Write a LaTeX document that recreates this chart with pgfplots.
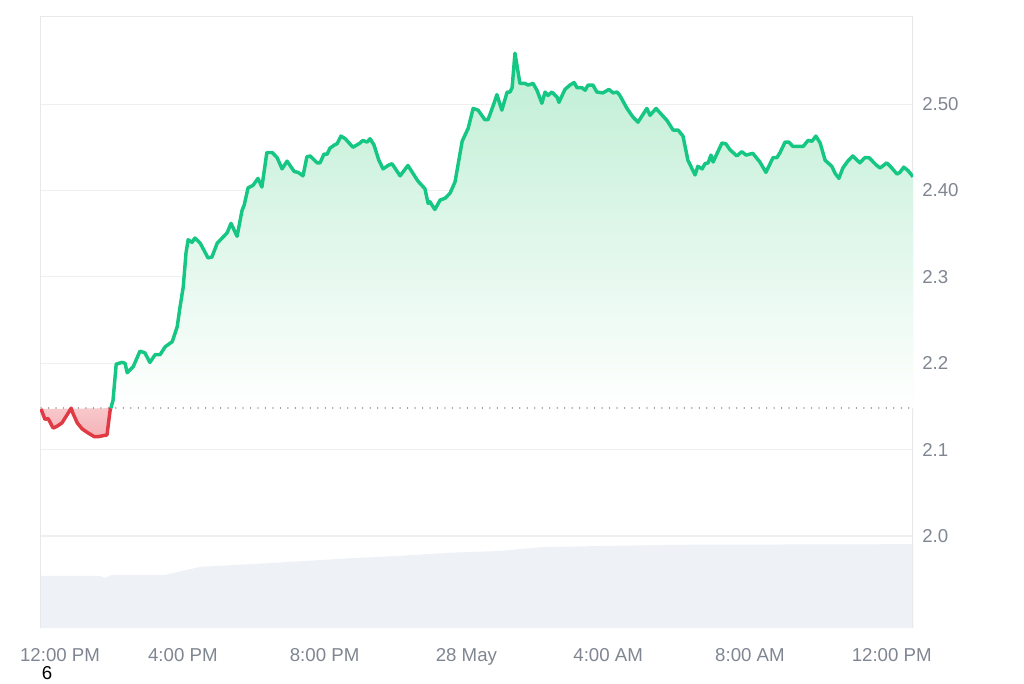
\documentclass[border=0pt]{standalone}
\usepackage{pgfplots}
\pgfplotsset{compat=1.18}
\usepackage{pgfplotstable}
\usepackage{fontspec}
\setmainfont{Liberation Sans}
\definecolor{upgreen}{RGB}{22,199,132}
\definecolor{downred}{RGB}{224,58,68}
\definecolor{greenfill}{RGB}{190,238,212}
\definecolor{redtop}{RGB}{248,200,203}
\definecolor{redbot}{RGB}{244,178,183}
\definecolor{volfill}{RGB}{238,242,246}
\definecolor{gridgray}{RGB}{239,239,239}
\definecolor{framegray}{RGB}{232,232,232}
\definecolor{labelgray}{RGB}{128,134,145}
\definecolor{dotgray}{RGB}{150,150,150}

\pgfplotstableread{
h p
0 2.147
0.11 2.135
0.20 2.136
0.34 2.125
0.45 2.127
0.59 2.131
0.73 2.140
0.85 2.148
0.90 2.142
1.02 2.131
1.16 2.124
1.30 2.120
1.50 2.115
1.61 2.115
1.86 2.117
1.95 2.146
1.97 2.148
}\redtab

\pgfplotstableread{
h p
1.97 2.148
2.03 2.157
2.12 2.199
2.28 2.201
2.37 2.200
2.43 2.189
2.60 2.196
2.79 2.214
2.93 2.212
3.07 2.201
3.22 2.210
3.36 2.210
3.50 2.219
3.70 2.225
3.84 2.242
3.92 2.265
4.01 2.288
4.09 2.328
4.15 2.343
4.26 2.340
4.34 2.345
4.49 2.339
4.71 2.322
4.82 2.323
4.97 2.339
5.11 2.345
5.25 2.351
5.36 2.362
5.53 2.347
5.67 2.377
5.73 2.383
5.84 2.403
5.98 2.406
6.12 2.414
6.23 2.404
6.37 2.444
6.52 2.444
6.66 2.438
6.80 2.425
6.94 2.434
7.14 2.422
7.25 2.421
7.39 2.417
7.50 2.439
7.59 2.440
7.79 2.432
7.87 2.432
7.98 2.442
8.07 2.442
8.15 2.449
8.29 2.453
8.35 2.454
8.46 2.463
8.58 2.460
8.80 2.450
9.00 2.455
9.08 2.458
9.20 2.456
9.28 2.460
9.39 2.453
9.53 2.435
9.65 2.425
9.79 2.429
9.90 2.431
10.13 2.417
10.35 2.429
10.49 2.420
10.63 2.411
10.83 2.402
10.92 2.385
10.97 2.387
11.11 2.378
11.26 2.389
11.40 2.391
11.54 2.397
11.68 2.410
11.88 2.457
12.05 2.472
12.19 2.495
12.33 2.493
12.52 2.482
12.61 2.482
12.78 2.501
12.86 2.511
13.00 2.493
13.15 2.514
13.23 2.514
13.29 2.519
13.37 2.559
13.51 2.524
13.65 2.524
13.74 2.522
13.88 2.524
13.99 2.516
14.13 2.501
14.22 2.514
14.30 2.510
14.41 2.514
14.56 2.508
14.61 2.502
14.78 2.517
14.92 2.522
15.04 2.525
15.12 2.519
15.26 2.519
15.35 2.516
15.43 2.522
15.57 2.522
15.68 2.514
15.85 2.513
16.02 2.517
16.14 2.513
16.25 2.514
16.33 2.510
16.53 2.495
16.70 2.485
16.84 2.479
17.09 2.495
17.18 2.487
17.35 2.495
17.46 2.490
17.66 2.481
17.83 2.470
17.97 2.470
18.11 2.463
18.25 2.435
18.45 2.418
18.53 2.428
18.65 2.425
18.73 2.431
18.82 2.432
18.90 2.441
18.96 2.433
19.21 2.455
19.32 2.454
19.44 2.447
19.63 2.440
19.77 2.445
19.89 2.441
20.08 2.443
20.28 2.433
20.45 2.421
20.65 2.438
20.76 2.438
20.85 2.444
20.99 2.456
21.10 2.456
21.21 2.451
21.50 2.451
21.64 2.458
21.75 2.457
21.86 2.463
21.98 2.455
22.12 2.435
22.31 2.428
22.40 2.420
22.51 2.414
22.62 2.426
22.76 2.434
22.90 2.440
23.10 2.432
23.24 2.438
23.36 2.438
23.55 2.430
23.67 2.426
23.86 2.432
23.98 2.427
24.15 2.419
24.23 2.421
24.34 2.427
24.46 2.423
24.60 2.416
}\greentab

\pgfplotstableread{
h v
-0.03 8.5
1.66 8.5
1.81 8.2
2.00 8.7
3.50 8.7
4.20 9.6
4.49 10.0
5.47 10.3
6.40 10.6
7.31 10.9
8.72 11.4
10.13 11.8
11.54 12.3
12.95 12.6
14.08 13.2
15.77 13.4
18.03 13.6
24.60 13.7
}\voltab

\begin{document}
\begin{tikzpicture}
\useasboundingbox (0,0) rectangle (768pt,512.25pt);
% volume
\begin{axis}[at={(30pt,41.25pt)},anchor=south west,scale only axis,
  width=654.75pt,height=459pt,xmin=-0.03,xmax=24.6,ymin=0,ymax=100,
  axis lines=none,xtick=\empty,ytick=\empty]
\addplot[fill=volfill,draw=none] table[x=h,y=v]{\voltab} -- (axis cs:24.6,0) -- (axis cs:-0.03,0) -- cycle;
\end{axis}
% price
\begin{axis}[at={(30pt,41.25pt)},anchor=south west,scale only axis,
  width=654.75pt,height=459pt,xmin=-0.03,xmax=24.6,ymin=1.8935,ymax=2.602,
  axis line style={draw=none},major tick length=0pt,
  xtick={0,4,8,12,16,20,24},
  xticklabels={\hspace*{28.5pt}12:00 PM,4:00 PM,8:00 PM,28 May,4:00 AM,8:00 AM,12:00 PM},
  ytick={2.0,2.1,2.2,2.3,2.4,2.5},
  yticklabels={2.0,2.1,2.2,2.3,2.40,2.50},
  yticklabel pos=right,
  ymajorgrids,grid style={draw=gridgray,line width=0.8pt},
  tick label style={font=\fontsize{14}{16}\selectfont,text=labelgray},
  yticklabel style={anchor=west,inner sep=0pt,xshift=6.75pt},
  xticklabel style={anchor=north,inner sep=0pt,yshift=-15.5pt},
  /pgf/number format/assume math mode=true]
\draw[framegray,line width=0.8pt] (rel axis cs:0,0) -- (rel axis cs:0,1) -- (rel axis cs:1,1) -- (rel axis cs:1,0);
\addplot[draw=none,top color=greenfill,bottom color=white] table[x=h,y=p]{\greentab} -- (axis cs:24.6,2.148) -- cycle;
\addplot[draw=none,top color=redtop,bottom color=redbot] table[x=h,y=p]{\redtab} -- cycle;
\addplot[dotgray,line width=1.1pt,dash pattern=on 0.01pt off 5.6pt,line cap=round] coordinates {(0,2.148) (24.5,2.148)};
\addplot[downred,line width=2.6pt,line join=round] table[x=h,y=p]{\redtab};
\addplot[upgreen,line width=2.6pt,line join=round] table[x=h,y=p]{\greentab};
\end{axis}
\node[font=\fontsize{14}{16}\selectfont,inner sep=0pt] at (35.25pt,7.5pt) {6};
\end{tikzpicture}
\end{document}
